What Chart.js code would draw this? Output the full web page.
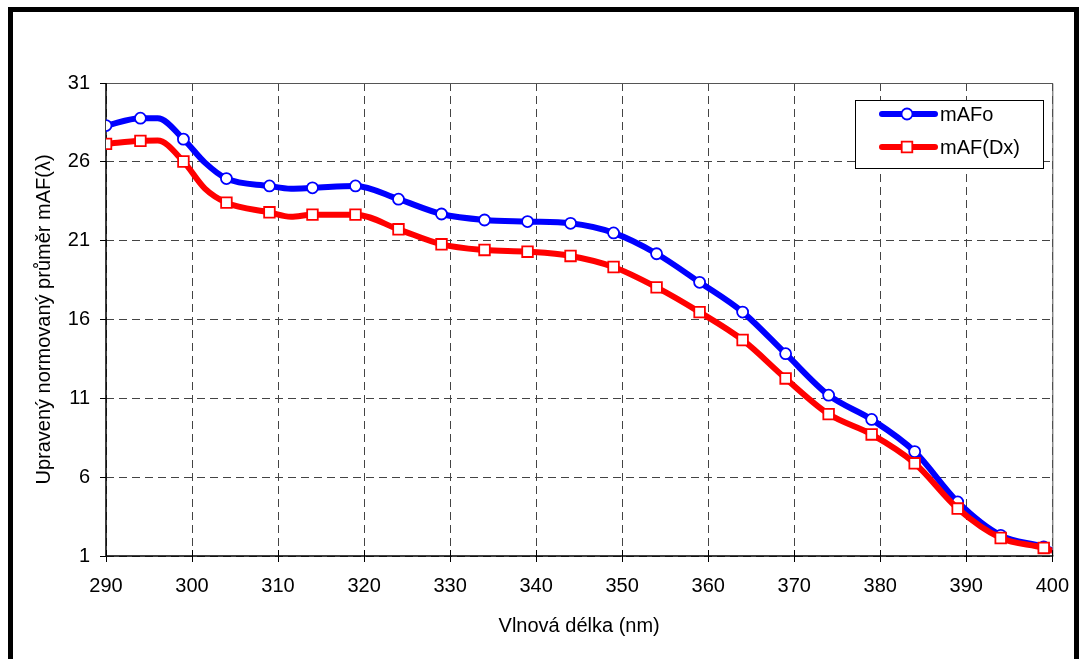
<!DOCTYPE html>
<html lang="cs">
<head>
<meta charset="utf-8">
<title>mAF</title>
<script src="https://cdn.jsdelivr.net/npm/chart.js@4.4.1/dist/chart.umd.min.js"></script>
<style>
html, body { margin: 0; padding: 0; background: #fff; }
canvas { display: block; }
</style>
</head>
<body>
<canvas id="chart" width="1081" height="659"></canvas>
<script>
// #region [01] Data
const wavelengths = [290, 294, 296, 299, 301.5, 304, 309, 311.5, 314, 319, 324, 329, 334, 339, 344, 349, 354, 359, 364, 369, 374, 379, 384, 389, 394, 399, 400];
const mafO  = [28.3, 28.77, 28.77, 27.44, 25.95, 24.94, 24.47, 24.3, 24.35, 24.47, 23.63, 22.69, 22.31, 22.21, 22.10, 21.49, 20.17, 18.36, 16.47, 13.83, 11.20, 9.66, 7.62, 4.43, 2.31, 1.57, 1.35];
const mafDx = [27.14, 27.33, 27.35, 26.02, 24.3, 23.41, 22.80, 22.52, 22.65, 22.65, 21.72, 20.77, 20.41, 20.30, 20.03, 19.33, 18.04, 16.47, 14.70, 12.26, 10.0, 8.71, 6.88, 4.01, 2.14, 1.51, 1.32];
const markedWavelengths = [290, 294, 299, 304, 309, 314, 319, 324, 329, 334, 339, 344, 349, 354, 359, 364, 369, 374, 379, 384, 389, 394, 399];
const xTicks = [290, 300, 310, 320, 330, 340, 350, 360, 370, 380, 390, 400];
const yTicks = [1, 6, 11, 16, 21, 26, 31];
// #endregion

// #region [02] Helpers
const FONT = '"Liberation Sans", Arial, sans-serif';
const toPoints = (ys) => wavelengths.map((x, i) => ({ x: x, y: ys[i] }));
const markerRadius = (r) => (ctx) => {
    const p = ctx.raw;
    return p && markedWavelengths.includes(p.x) ? r : 0;
};
// #endregion

// #region [03] Plugins (frame, plot border, legend)
const framePlugin = {
    id: 'frame',
    beforeDraw(chart) {
        const c = chart.ctx;
        c.save();
        c.fillStyle = '#fff';
        c.fillRect(0, 0, chart.width, chart.height);
        c.strokeStyle = '#000';
        c.lineWidth = 5;
        c.strokeRect(10.5, 9.5, 1066, 700);
        c.restore();
    },
    beforeDatasetsDraw(chart) {
        const a = chart.chartArea;
        const c = chart.ctx;
        c.save();
        c.setLineDash([]);
        // top and right edge of the plot, thin grey
        c.strokeStyle = '#555';
        c.lineWidth = 1;
        c.beginPath();
        c.moveTo(a.left, a.top + 0.5);
        c.lineTo(a.right + 0.5, a.top + 0.5);
        c.lineTo(a.right + 0.5, a.bottom);
        c.stroke();
        // axis lines, solid black
        c.strokeStyle = '#000';
        c.lineWidth = 1.5;
        c.beginPath();
        c.moveTo(a.left, a.top);
        c.lineTo(a.left, a.bottom);
        c.lineTo(a.right + 1, a.bottom);
        c.stroke();
        // x ticks also cross into the plot
        const xs = chart.scales.x;
        c.lineWidth = 1;
        c.beginPath();
        xTicks.forEach(v => {
            const px = Math.round(xs.getPixelForValue(v)) + 0.5;
            c.moveTo(px, a.bottom - 6);
            c.lineTo(px, a.bottom);
        });
        c.stroke();
        c.restore();
    }
};

const legendPlugin = {
    id: 'boxLegend',
    afterDraw(chart) {
        const c = chart.ctx;
        c.save();
        c.fillStyle = '#fff';
        c.fillRect(855, 100, 188, 68);
        c.strokeStyle = '#000';
        c.lineWidth = 1;
        c.strokeRect(855.5, 100.5, 188, 68);
        const rows = [114, 147];
        chart.data.datasets.forEach((ds, i) => {
            const y = rows[i];
            c.strokeStyle = ds.borderColor;
            c.lineWidth = ds.borderWidth;
            c.lineCap = 'round';
            c.beginPath();
            c.moveTo(882, y);
            c.lineTo(935, y);
            c.stroke();
            c.fillStyle = ds.pointBackgroundColor;
            c.strokeStyle = ds.pointBorderColor;
            c.lineWidth = ds.pointBorderWidth;
            Chart.helpers.drawPoint(c, {
                pointStyle: ds.pointStyle,
                radius: ds.pointStyle === 'rect' ? 7.5 : 5.5,
                borderWidth: ds.pointBorderWidth,
                rotation: 0
            }, 907, y);
            c.fillStyle = '#000';
            c.font = '20px ' + FONT;
            c.textBaseline = 'middle';
            c.textAlign = 'left';
            c.fillText(ds.label, 940, y + 1);
        });
        c.restore();
    }
};
// #endregion

// #region [04] Chart
const ctx = document.getElementById('chart').getContext('2d');
new Chart(ctx, {
    type: 'line',
    data: {
        datasets: [
            {
                label: 'mAFo',
                data: toPoints(mafO),
                borderColor: '#0000ff',
                borderWidth: 6,
                pointStyle: 'circle',
                pointRadius: markerRadius(5.5),
                pointBackgroundColor: '#fff',
                pointBorderColor: '#0000ff',
                pointBorderWidth: 1.8,
                cubicInterpolationMode: 'monotone',
                order: 1
            },
            {
                label: 'mAF(Dx)',
                data: toPoints(mafDx),
                borderColor: '#ff0000',
                borderWidth: 6,
                pointStyle: 'rect',
                pointRadius: markerRadius(7.5),
                pointBackgroundColor: '#fff',
                pointBorderColor: '#ff0000',
                pointBorderWidth: 1.8,
                cubicInterpolationMode: 'monotone',
                order: 0
            }
        ]
    },
    options: {
        responsive: false,
        animation: false,
        devicePixelRatio: 1,
        layout: { padding: { left: 0, right: 23, top: 83, bottom: 0 } },
        plugins: {
            legend: { display: false },
            tooltip: { enabled: false }
        },
        scales: {
            x: {
                type: 'linear',
                min: 290,
                max: 400,
                afterBuildTicks: (s) => { s.ticks = xTicks.map(v => ({ value: v })); },
                afterFit: (s) => { s.height = 103; },
                ticks: { color: '#000', font: { family: FONT, size: 20 }, padding: 12, maxRotation: 0 },
                grid: { color: '#444', tickColor: '#000', tickLength: 6, lineWidth: 1 },
                border: { display: false, dash: [8, 5] },
                title: {
                    display: true,
                    text: 'Vlnová délka (nm)',
                    color: '#000',
                    font: { family: FONT, size: 20 },
                    padding: { top: 0, bottom: 21 }
                }
            },
            y: {
                min: 1,
                max: 31,
                afterBuildTicks: (s) => { s.ticks = yTicks.map(v => ({ value: v })); },
                afterFit: (s) => { s.width = 106; },
                ticks: { color: '#000', font: { family: FONT, size: 20 }, padding: 10 },
                grid: { color: '#444', tickColor: '#000', tickLength: 6, lineWidth: 1 },
                border: { display: false, dash: [8, 5] },
                title: {
                    display: true,
                    text: 'Upravený normovaný průměr mAF(λ)',
                    color: '#000',
                    font: { family: FONT, size: 20 },
                    padding: { top: 32, bottom: 0 }
                }
            }
        }
    },
    plugins: [framePlugin, legendPlugin]
});
// #endregion
</script>
</body>
</html>
